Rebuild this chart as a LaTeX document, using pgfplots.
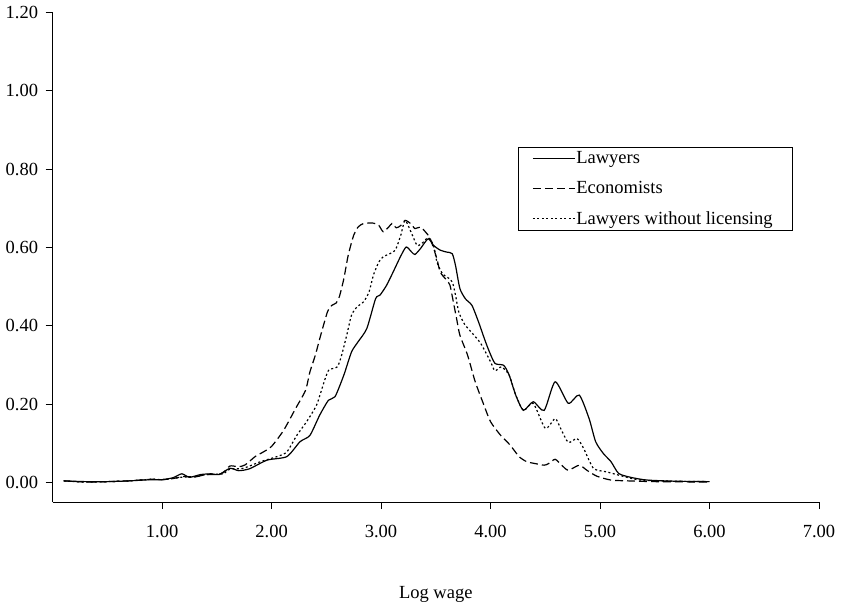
\documentclass[border=0pt]{standalone}
\usepackage{pgfplots}
\pgfplotsset{compat=1.18}
\usepackage{fontspec}
\setmainfont{Liberation Serif}
\newcommand{\fs}{\fontsize{18.5}{22}\selectfont}
\begin{document}
\begin{tikzpicture}
\begin{axis}[
  scale only axis,
  width=766.4pt, height=489.6pt,
  xmin=0, xmax=7, ymin=-0.05, ymax=1.2,
  axis x line=bottom, axis y line=left,
  axis line style={-, line width=1pt},
  xtick={1,2,3,4,5,6,7},
  ytick={0,0.2,0.4,0.6,0.8,1.0,1.2},
  tick align=outside,
  major tick length=7pt,
  tick style={line width=1pt, black},
  /pgf/number format/assume math mode=true,
  xticklabel={\pgfmathprintnumber[fixed,fixed zerofill,precision=2]{\tick}},
  yticklabel={\pgfmathprintnumber[fixed,fixed zerofill,precision=2]{\tick}},
  scaled ticks=false,
  tick label style={font=\fs},
  xticklabel style={yshift=-13pt},
  yticklabel style={xshift=-4pt},
  xlabel={Log wage},
  xlabel style={font=\fs, yshift=-41pt},
  legend cell align=left,
  legend style={at={(0.6072,0.7251)}, anchor=north west, draw=black, line width=0.8pt,
    font=\fs, row sep=12.5pt, inner xsep=14pt, inner ysep=2pt,
    nodes={inner xsep=1pt}},
  legend image code/.code={\draw[#1, line width=1pt] (0pt,0pt) -- (42pt,0pt);},
  clip=false,
]
\addplot[black, line width=1.2pt, smooth, tension=0.4] coordinates {
(0.10,0.004)(0.30,0.002)(0.50,0.002)(0.70,0.004)(0.90,0.007)(1.00,0.007)(1.10,0.012)(1.18,0.022)(1.25,0.013)(1.35,0.020)(1.45,0.022)(1.52,0.020)(1.62,0.036)(1.70,0.030)(1.80,0.035)(1.96,0.057)(2.14,0.066)(2.26,0.104)(2.35,0.120)(2.44,0.172)(2.52,0.210)(2.58,0.219)(2.66,0.274)(2.73,0.333)(2.79,0.359)(2.87,0.393)(2.95,0.469)(2.99,0.478)(3.05,0.503)(3.11,0.537)(3.18,0.578)(3.23,0.601)(3.28,0.588)(3.31,0.582)(3.36,0.597)(3.43,0.622)(3.48,0.605)(3.54,0.593)(3.60,0.588)(3.65,0.584)(3.68,0.554)(3.72,0.495)(3.77,0.469)(3.83,0.452)(3.89,0.410)(3.94,0.370)(3.98,0.340)(4.04,0.304)(4.12,0.299)(4.17,0.274)(4.23,0.223)(4.30,0.184)(4.39,0.206)(4.49,0.184)(4.59,0.257)(4.71,0.202)(4.81,0.223)(4.90,0.163)(4.96,0.104)(5.03,0.074)(5.10,0.053)(5.17,0.023)(5.28,0.013)(5.43,0.006)(5.70,0.003)(6.00,0.002)
};
\addlegendentry{Lawyers}
\addplot[black, line width=1.2pt, smooth, tension=0.4, dash pattern=on 8pt off 4pt] coordinates {
(0.10,0.004)(0.30,0.001)(0.50,0.002)(0.70,0.004)(0.90,0.008)(1.00,0.007)(1.10,0.010)(1.20,0.015)(1.30,0.014)(1.40,0.020)(1.50,0.020)(1.56,0.025)(1.62,0.042)(1.70,0.040)(1.76,0.045)(1.85,0.066)(1.92,0.077)(2.00,0.092)(2.11,0.133)(2.22,0.189)(2.31,0.235)(2.35,0.282)(2.40,0.325)(2.44,0.367)(2.51,0.435)(2.55,0.452)(2.59,0.458)(2.62,0.475)(2.66,0.520)(2.70,0.580)(2.75,0.631)(2.79,0.652)(2.84,0.661)(2.93,0.662)(2.98,0.656)(3.02,0.640)(3.07,0.652)(3.10,0.661)(3.14,0.650)(3.18,0.656)(3.22,0.669)(3.27,0.661)(3.31,0.648)(3.36,0.652)(3.41,0.638)(3.45,0.622)(3.51,0.571)(3.54,0.537)(3.60,0.516)(3.63,0.503)(3.66,0.461)(3.69,0.418)(3.72,0.376)(3.79,0.325)(3.86,0.257)(3.94,0.197)(4.00,0.155)(4.09,0.121)(4.18,0.095)(4.26,0.066)(4.33,0.053)(4.41,0.048)(4.49,0.044)(4.53,0.048)(4.59,0.059)(4.65,0.044)(4.71,0.031)(4.81,0.044)(4.88,0.031)(4.97,0.016)(5.10,0.006)(5.25,0.004)(5.50,0.002)(6.00,0.001)
};
\addlegendentry{Economists}
\addplot[black, line width=1.2pt, smooth, tension=0.4, dash pattern=on 2pt off 2.5pt] coordinates {
(0.10,0.004)(0.30,0.001)(0.50,0.002)(0.70,0.004)(0.90,0.008)(1.00,0.007)(1.10,0.010)(1.20,0.014)(1.30,0.014)(1.40,0.020)(1.50,0.021)(1.56,0.022)(1.62,0.034)(1.74,0.036)(1.90,0.053)(2.05,0.066)(2.14,0.078)(2.23,0.120)(2.32,0.155)(2.41,0.197)(2.47,0.248)(2.52,0.286)(2.60,0.295)(2.64,0.325)(2.69,0.380)(2.73,0.427)(2.78,0.448)(2.84,0.461)(2.89,0.486)(2.93,0.529)(2.98,0.563)(3.02,0.576)(3.08,0.584)(3.13,0.593)(3.18,0.631)(3.22,0.669)(3.28,0.635)(3.33,0.605)(3.38,0.612)(3.43,0.625)(3.48,0.605)(3.51,0.563)(3.56,0.533)(3.60,0.525)(3.65,0.512)(3.68,0.478)(3.71,0.435)(3.76,0.405)(3.82,0.385)(3.91,0.355)(4.00,0.308)(4.04,0.285)(4.10,0.295)(4.17,0.274)(4.23,0.223)(4.30,0.184)(4.39,0.202)(4.50,0.138)(4.59,0.163)(4.64,0.138)(4.71,0.102)(4.79,0.112)(4.85,0.087)(4.94,0.036)(5.06,0.027)(5.22,0.015)(5.37,0.006)(5.70,0.003)(6.00,0.002)
};
\addlegendentry{Lawyers without licensing\hspace{5pt}\rule[-22pt]{0pt}{0pt}}
\end{axis}
\pgfresetboundingbox
\path ([shift={(-52.6pt,-108pt)}]current axis.south west) rectangle ++(842pt,610pt);
\end{tikzpicture}
\end{document}
